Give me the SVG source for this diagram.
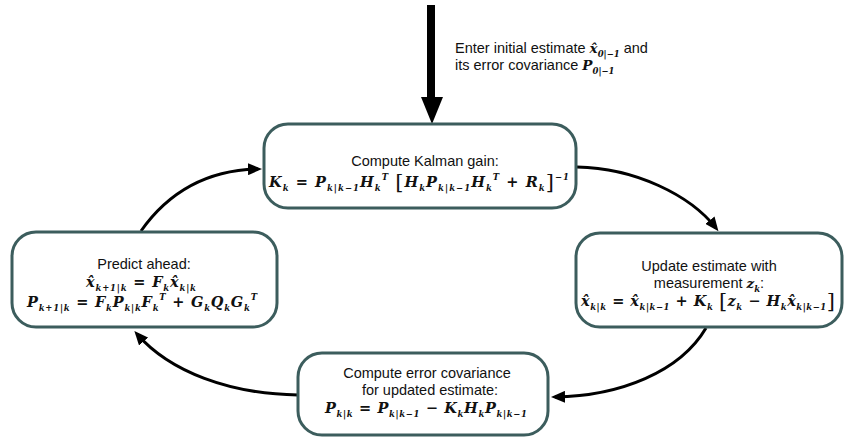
<svg xmlns="http://www.w3.org/2000/svg" width="845" height="437" viewBox="0 0 845 437">
  <style>
    .box { fill: #ffffff; stroke: #3c5d5d; stroke-width: 3; }
    .t { font-family: "Liberation Sans", Arial, sans-serif; font-size: 14.5px; fill: #111; }
    .m { font-family: "DejaVu Serif", "Liberation Serif", serif; font-weight: bold; font-style: italic; font-size: 14.5px; fill: #111; }
    .mi { font-size: 13.5px; }
    .o { font-style: normal; }
    .sb { font-size: 8.5px; baseline-shift: -3.5px; }
    .sp { font-size: 8.5px; baseline-shift: 7px; }
    .br { font-size: 21px; font-weight: normal; font-style: normal; baseline-shift: -2px; }
    .conn { fill: none; stroke: #000; stroke-width: 3; }
  </style>
  <defs>
    <marker id="ah" markerWidth="14" markerHeight="12" refX="10" refY="6" orient="auto" markerUnits="userSpaceOnUse">
      <path d="M0,0 L14,6 L0,12 z" fill="#000"/>
    </marker>
  </defs>

  <!-- connectors -->
  <g id="connectors">
    <rect x="427" y="5" width="8" height="93" fill="#000"/>
    <polygon points="421,97 443,97 432,124" fill="#000"/>
    <path class="conn" d="M577,167 C635,168 690,195 716,228" marker-end="url(#ah)"/>
    <path class="conn" d="M706,328 C680,372 620,396 555,397" marker-end="url(#ah)"/>
    <path class="conn" d="M298,395 C230,394 170,372 137,334" marker-end="url(#ah)"/>
    <path class="conn" d="M141,231 C170,190 210,170 258,169" marker-end="url(#ah)"/>
  </g>

  <!-- initial estimate label -->
  <g id="init-label">
    <text class="t" x="455" y="53">Enter initial estimate <tspan class="m mi">x̂<tspan class="sb">0|−1</tspan></tspan> and</text>
    <text class="t" x="455" y="70">its error covariance <tspan class="m mi">P<tspan class="sb">0|−1</tspan></tspan></text>
  </g>

  <!-- Kalman gain -->
  <g id="gain">
    <rect class="box" x="264" y="124" width="312" height="84" rx="24"/>
    <text class="t" x="425" y="166" text-anchor="middle">Compute Kalman gain:</text>
    <text class="m" x="419" y="187" text-anchor="middle" textLength="300" lengthAdjust="spacing">K<tspan class="sb">k</tspan><tspan class="o"> = </tspan>P<tspan class="sb">k|k−1</tspan>H<tspan class="sb">k</tspan><tspan class="sp">T</tspan> <tspan class="br">[</tspan>H<tspan class="sb">k</tspan>P<tspan class="sb">k|k−1</tspan>H<tspan class="sb">k</tspan><tspan class="sp">T</tspan><tspan class="o"> + </tspan>R<tspan class="sb">k</tspan><tspan class="br">]</tspan><tspan class="sp">−1</tspan></text>
  </g>

  <!-- Update estimate -->
  <g id="update">
    <rect class="box" x="576" y="233" width="266" height="94" rx="24"/>
    <text class="t" x="709" y="271" text-anchor="middle">Update estimate with</text>
    <text class="t" x="709" y="288" text-anchor="middle">measurement <tspan class="m mi">z<tspan class="sb">k</tspan></tspan>:</text>
    <text class="m" x="708" y="306" text-anchor="middle" textLength="254" lengthAdjust="spacing">x̂<tspan class="sb">k|k</tspan><tspan class="o"> = </tspan>x̂<tspan class="sb">k|k−1</tspan><tspan class="o"> + </tspan>K<tspan class="sb">k</tspan> <tspan class="br">[</tspan>z<tspan class="sb">k</tspan><tspan class="o"> − </tspan>H<tspan class="sb">k</tspan>x̂<tspan class="sb">k|k−1</tspan><tspan class="br">]</tspan></text>
  </g>

  <!-- Error covariance -->
  <g id="covariance">
    <rect class="box" x="298" y="353" width="250" height="82" rx="24"/>
    <text class="t" x="427" y="378" text-anchor="middle">Compute error covariance</text>
    <text class="t" x="430" y="395" text-anchor="middle">for updated estimate:</text>
    <text class="m" x="426" y="413" text-anchor="middle" textLength="202" lengthAdjust="spacing">P<tspan class="sb">k|k</tspan><tspan class="o"> = </tspan>P<tspan class="sb">k|k−1</tspan><tspan class="o"> − </tspan>K<tspan class="sb">k</tspan>H<tspan class="sb">k</tspan>P<tspan class="sb">k|k−1</tspan></text>
  </g>

  <!-- Predict ahead -->
  <g id="predict">
    <rect class="box" x="12" y="232" width="265" height="95" rx="24"/>
    <text class="t" x="144" y="269" text-anchor="middle">Predict ahead:</text>
    <text class="m" x="141" y="287" text-anchor="middle" textLength="110" lengthAdjust="spacing">x̂<tspan class="sb">k+1|k</tspan><tspan class="o"> = </tspan>F<tspan class="sb">k</tspan>x̂<tspan class="sb">k|k</tspan></text>
    <text class="m" x="142" y="307" text-anchor="middle" textLength="230" lengthAdjust="spacing">P<tspan class="sb">k+1|k</tspan><tspan class="o"> = </tspan>F<tspan class="sb">k</tspan>P<tspan class="sb">k|k</tspan>F<tspan class="sb">k</tspan><tspan class="sp">T</tspan><tspan class="o"> + </tspan>G<tspan class="sb">k</tspan>Q<tspan class="sb">k</tspan>G<tspan class="sb">k</tspan><tspan class="sp">T</tspan></text>
  </g>
</svg>
